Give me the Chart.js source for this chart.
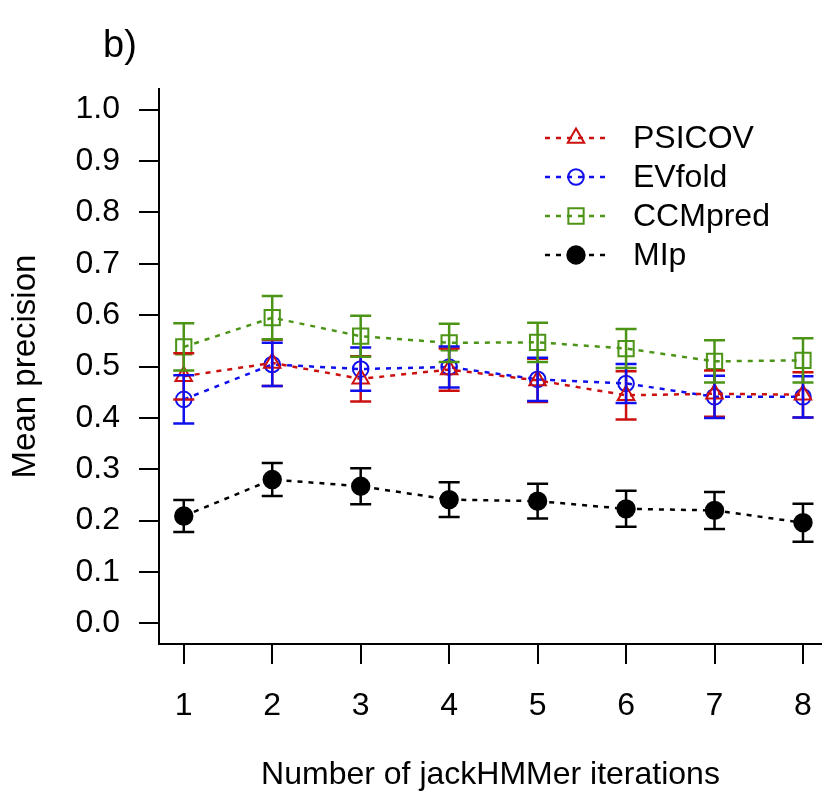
<!DOCTYPE html>
<html>
<head>
<meta charset="utf-8">
<script src="https://cdn.jsdelivr.net/npm/chart.js"></script>
<style>
  body { margin: 0; background: #fff; overflow: hidden; }
  #wrap { width: 822px; height: 800px; }
</style>
</head>
<body>
<div id="wrap"><canvas id="chart" width="822" height="800"></canvas></div>
<script>
// Mean precision per number of jackHMMer iterations
const iterations = [1, 2, 3, 4, 5, 6, 7, 8];
const yTicks = [0, 0.1, 0.2, 0.3, 0.4, 0.5, 0.6, 0.7, 0.8, 0.9, 1.0];

const psicov    = [0.481, 0.507, 0.476, 0.494, 0.473, 0.444, 0.447, 0.445];
const psicovErr = [0.045, 0.045, 0.044, 0.041, 0.042, 0.047, 0.045, 0.044];

const evfold    = [0.436, 0.504, 0.495, 0.499, 0.475, 0.467, 0.441, 0.441];
const evfoldErr = [0.047, 0.042, 0.042, 0.040, 0.042, 0.038, 0.041, 0.040];

const ccmpred    = [0.538, 0.595, 0.559, 0.546, 0.547, 0.535, 0.510, 0.512];
const ccmpredErr = [0.046, 0.042, 0.040, 0.037, 0.038, 0.038, 0.041, 0.043];

const mip    = [0.209, 0.280, 0.267, 0.241, 0.238, 0.223, 0.220, 0.196];
const mipErr = [0.031, 0.032, 0.035, 0.034, 0.034, 0.035, 0.036, 0.037];

const FONT = "'Liberation Sans', Arial, Helvetica, sans-serif";

function pts(values) {
    return iterations.map((it, i) => ({ x: it, y: values[i] }));
}

function series(label, values, errors, color, style, radius, filled) {
    return {
        label: label,
        data: pts(values),
        errors: errors,
        borderColor: color,
        borderWidth: 2.5,
        borderDash: [5, 6],
        pointStyle: style,
        pointRadius: radius,
        pointHoverRadius: radius,
        pointBorderWidth: 2,
        pointBorderColor: color,
        pointBackgroundColor: filled ? color : 'rgba(0,0,0,0)',
        fill: false,
        tension: 0
    };
}

// error bars drawn through the chart's own scales
const errorBars = {
    id: 'errorBars',
    afterDatasetsDraw(chart) {
        const ctx = chart.ctx;
        const xs = chart.scales.x, ys = chart.scales.y;
        ctx.save();
        chart.data.datasets.forEach(ds => {
            ctx.strokeStyle = ds.borderColor;
            ctx.lineWidth = 2.5;
            ctx.setLineDash([]);
            ds.data.forEach((p, i) => {
                const px = xs.getPixelForValue(p.x);
                const top = ys.getPixelForValue(p.y + ds.errors[i]);
                const bot = ys.getPixelForValue(p.y - ds.errors[i]);
                ctx.beginPath();
                ctx.moveTo(px, top); ctx.lineTo(px, bot);
                ctx.moveTo(px - 10.5, top); ctx.lineTo(px + 10.5, top);
                ctx.moveTo(px - 10.5, bot); ctx.lineTo(px + 10.5, bot);
                ctx.stroke();
            });
        });
        ctx.restore();
    }
};

// R-style legend (dotted line with marker) and panel letter
const extras = {
    id: 'extras',
    afterDraw(chart) {
        const ctx = chart.ctx;
        ctx.save();
        ctx.fillStyle = '#000';
        ctx.font = '38px ' + FONT;
        ctx.textBaseline = 'alphabetic';
        ctx.textAlign = 'left';
        ctx.fillText('b)', 103, 57);

        const rowY = [138, 177, 216, 255];
        chart.data.datasets.forEach((ds, i) => {
            const y = rowY[i];
            ctx.strokeStyle = ds.borderColor;
            ctx.lineWidth = 2.5;
            ctx.setLineDash([5, 6]);
            ctx.beginPath();
            ctx.moveTo(545, y); ctx.lineTo(607, y);
            ctx.stroke();
            ctx.setLineDash([]);
            ctx.lineWidth = ds.pointBorderWidth;
            ctx.fillStyle = ds.pointBackgroundColor;
            Chart.helpers.drawPoint(ctx, {
                pointStyle: ds.pointStyle,
                radius: ds.pointRadius,
                borderWidth: ds.pointBorderWidth,
                rotation: 0
            }, 576, y);
            ctx.fillStyle = '#000';
            ctx.font = '32px ' + FONT;
            ctx.textBaseline = 'middle';
            ctx.fillText(ds.label, 633, y + 1);
        });
        ctx.restore();
    }
};

new Chart(document.getElementById('chart'), {
    type: 'line',
    data: {
        datasets: [
            series('PSICOV', psicov, psicovErr, '#cc1010', 'triangle', 9.5, false),
            series('EVfold', evfold, evfoldErr, '#1010ee', 'circle', 7.8, false),
            series('CCMpred', ccmpred, ccmpredErr, '#4b9416', 'rect', 10.8, false),
            series('MIp', mip, mipErr, '#000000', 'circle', 8.7, true)
        ]
    },
    options: {
        responsive: false,
        animation: false,
        devicePixelRatio: 1,
        layout: { autoPadding: false, padding: { top: 89, left: 0, right: 0, bottom: 0 } },
        plugins: {
            legend: { display: false },
            tooltip: { enabled: false },
            title: { display: false }
        },
        scales: {
            x: {
                type: 'linear',
                min: 0.72,
                max: 8.215,
                afterBuildTicks: s => { s.ticks = iterations.map(v => ({ value: v })); },
                afterFit: s => { s.height = 156; s.paddingLeft = 0; s.paddingRight = 0; },
                grid: { drawOnChartArea: false, drawTicks: true, tickLength: 20, color: '#000', lineWidth: 2 },
                border: { display: true, color: '#000', width: 2 },
                ticks: { color: '#000', padding: 23, font: { family: FONT, size: 32 }, maxRotation: 0,
                         callback: v => String(v) },
                title: { display: true, text: 'Number of jackHMMer iterations', color: '#000',
                         font: { family: FONT, size: 32 }, padding: { top: 0, bottom: 6 } }
            },
            y: {
                type: 'linear',
                min: -0.04,
                max: 1.04,
                afterBuildTicks: s => { s.ticks = yTicks.map(v => ({ value: v })); },
                afterFit: s => { s.width = 159; s.paddingTop = 0; s.paddingBottom = 0; },
                grid: { drawOnChartArea: false, drawTicks: true, tickLength: 20, color: '#000', lineWidth: 2 },
                border: { display: true, color: '#000', width: 2 },
                ticks: { color: '#000', padding: 19, font: { family: FONT, size: 32 },
                         callback: v => Number(v).toFixed(1) },
                title: { display: true, text: 'Mean precision', color: '#000',
                         font: { family: FONT, size: 33 }, padding: { top: 6, bottom: 0 } }
            }
        }
    },
    plugins: [errorBars, extras]
});
</script>
</body>
</html>
